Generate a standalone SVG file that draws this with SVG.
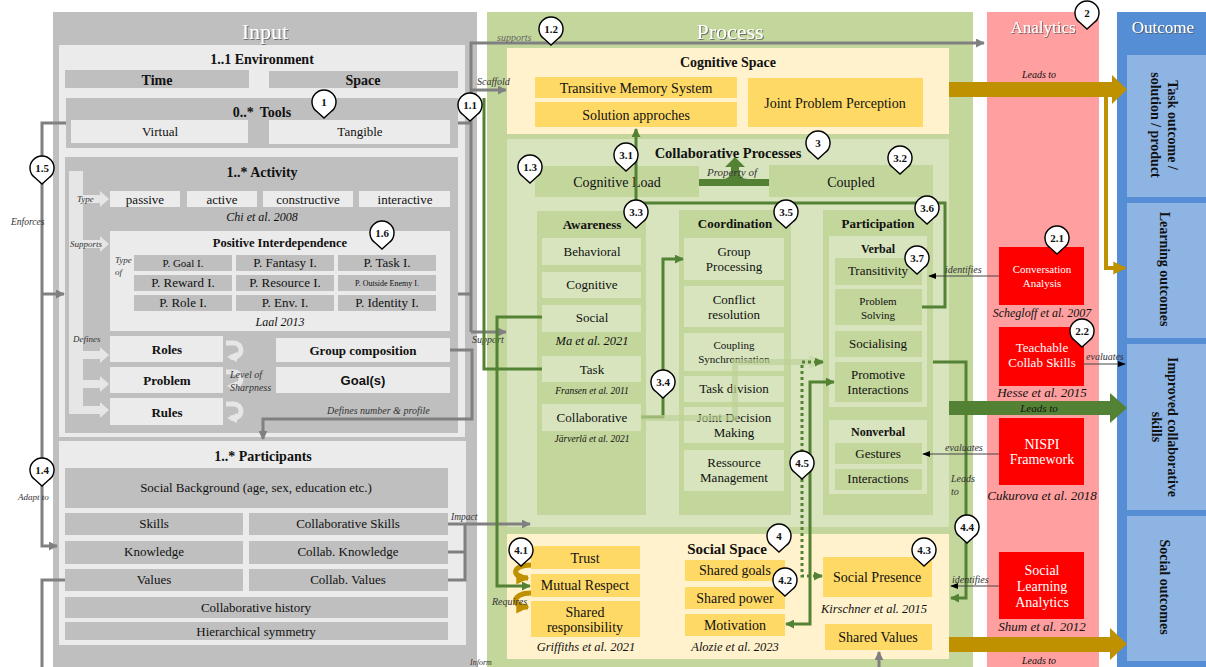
<svg xmlns="http://www.w3.org/2000/svg" width="1206" height="667" viewBox="0 0 1206 667" font-family="'Liberation Serif', 'DejaVu Serif', serif">
<defs>
<style>
text{font-family:'Liberation Serif','DejaVu Serif',serif;fill:#111;text-anchor:middle}
.b{font-weight:bold}
.i{font-style:italic}
.s13{font-size:13px}.s14{font-size:14px}.s12{font-size:12px}.s11{font-size:11px}.s10{font-size:10px}
.lbl{font-style:italic;font-size:10px;text-anchor:start;fill:#333}
.ttl{fill:#fff;filter:url(#sh)}
.wt{fill:#fff}
.gy{fill:#bfbfbf}.lg{fill:#ebebeb}
.pg{fill:#c3d69b}.lgr{fill:#d7e4bd}
.cr{fill:#fff2cc}.yl{fill:#ffd966}
.rd{fill:#ff0000}.lb{fill:#8db4e2}
.cg{fill:none;stroke:#808080;stroke-width:3}
.cgr{fill:none;stroke:#548235;stroke-width:3}
.ck{fill:none;stroke:#444;stroke-width:1}
.deco{fill:none;stroke:#e6e6e6;stroke-width:5}
.pinT{font-size:11px;font-weight:bold}
</style>
<filter id="sh" x="-10%" y="-10%" width="130%" height="140%"><feDropShadow dx="1" dy="1" stdDeviation="0.6" flood-color="#555" flood-opacity="0.8"/></filter>
<marker id="aG" viewBox="0 0 10 10" refX="9" refY="5" markerWidth="9" markerHeight="9" markerUnits="userSpaceOnUse" orient="auto-start-reverse"><path d="M0 0L10 5L0 10Z" fill="#808080"/></marker>
<marker id="aN" viewBox="0 0 10 10" refX="9" refY="5" markerWidth="9" markerHeight="9" markerUnits="userSpaceOnUse" orient="auto-start-reverse"><path d="M0 0L10 5L0 10Z" fill="#548235"/></marker>
<marker id="aL" viewBox="0 0 10 10" refX="9" refY="5" markerWidth="14" markerHeight="14" markerUnits="userSpaceOnUse" orient="auto-start-reverse"><path d="M0 0L10 5L0 10Z" fill="#c9dba9"/></marker>
<marker id="aK" viewBox="0 0 10 10" refX="9" refY="5" markerWidth="8" markerHeight="8" markerUnits="userSpaceOnUse" orient="auto-start-reverse"><path d="M0 1L10 5L0 9Z" fill="#000"/></marker>
<marker id="aO" viewBox="0 0 10 10" refX="9" refY="5" markerWidth="13" markerHeight="13" markerUnits="userSpaceOnUse" orient="auto-start-reverse"><path d="M0 0L10 5L0 10Z" fill="#bf9000"/></marker>
<marker id="aD" viewBox="0 0 10 10" refX="7" refY="5" markerWidth="10" markerHeight="10" markerUnits="userSpaceOnUse" orient="auto-start-reverse"><path d="M0 0L10 5L0 10Z" fill="#e6e6e6"/></marker>
<path id="pin" d="M-6.9 9.8A12 12 0 1 1 6.9 9.8L0 16Z" fill="#fff" stroke="#000" stroke-width="1.4"/>
</defs>
<rect width="1206" height="667" fill="#fff"/>

<!-- Panels -->
<g id="input-panel">
<rect x="53" y="12" width="424" height="655" class="gy"/>
<text x="265" y="39" class="ttl" style="font-size:22px">Input</text>
</g>
<g id="process-panel">
<rect x="487" y="12" width="486" height="655" class="pg"/>
<text x="730" y="39" class="ttl" style="font-size:22px">Process</text>
</g>
<g id="analytics-panel">
<rect x="987" y="12" width="112" height="655" fill="#ff9f9f"/>
<text x="1043" y="33" class="ttl" style="font-size:17px">Analytics</text>
</g>
<g id="outcome-panel">
<rect x="1117" y="12" width="89" height="655" fill="#558ed5"/>
<text x="1163" y="33" class="ttl" style="font-size:17px">Outcome</text>
</g>

<!-- Input: Environment -->
<g id="environment">
<rect x="59" y="45" width="406" height="392" class="lg"/>
<text x="262" y="64" class="b s14">1..1 Environment</text>
<rect x="65" y="70" width="184" height="18" class="gy"/>
<text x="157" y="85" class="b s14">Time</text>
<rect x="269" y="71" width="189" height="17" class="gy"/>
<text x="363" y="85" class="b s14">Space</text>
</g>
<g id="tools">
<rect x="66" y="98" width="392" height="50" class="gy"/>
<text x="262" y="117" class="b s14">0..*<tspan dx="6">Tools</tspan></text>
<rect x="71" y="120" width="177" height="23" class="lg"/>
<text x="160" y="136" class="s13">Virtual</text>
<rect x="269" y="120" width="181" height="24" class="lg"/>
<text x="360" y="136" class="s13">Tangible</text>
</g>
<g id="activity">
<rect x="65" y="157" width="393" height="276" class="gy"/>
<text x="262" y="177" class="b s14">1..* Activity</text>
<rect x="69" y="171" width="14" height="241" fill="#e6e6e6"/>
<path d="M83 195H100V191L109 199L100 207V203H83Z" fill="#e6e6e6"/>
<path d="M83 240H100V236L109 244L100 252V248H83Z" fill="#e6e6e6"/>
<path d="M83 351H100V347L109 355L100 363V359H83Z" fill="#e6e6e6"/>
<path d="M83 380H100V376L109 384L100 392V388H83Z" fill="#e6e6e6"/>
<path d="M69 406H100V402L109 410L100 418V414H69Z" fill="#e6e6e6"/>
<text x="77" y="202" class="lbl" style="font-size:9px">Type</text>
<text x="70" y="247" class="lbl" style="font-size:9px">Supports</text>
<text x="73" y="342" class="lbl" style="font-size:9px">Defines</text>
<rect x="110" y="191" width="70" height="16" class="lg"/>
<text x="145" y="204" class="s13">passive</text>
<rect x="187" y="191" width="70" height="16" class="lg"/>
<text x="222" y="204" class="s13">active</text>
<rect x="263" y="191" width="90" height="16" class="lg"/>
<text x="308" y="204" class="s13">constructive</text>
<rect x="359" y="191" width="91" height="16" class="lg"/>
<text x="405" y="204" class="s13">interactive</text>
<text x="262" y="221" class="i s12">Chi et al. 2008</text>
</g>
<g id="positive-interdependence">
<rect x="110" y="231" width="340" height="100" class="lg"/>
<text x="280" y="247" class="b" style="font-size:12.5px">Positive Interdependence</text>
<text x="115" y="263" class="lbl" style="font-size:9px">Type</text>
<text x="115" y="275" class="lbl" style="font-size:9px">of</text>
<rect x="134" y="255" width="98" height="16" class="gy"/>
<rect x="236" y="255" width="98" height="16" class="gy"/>
<rect x="338" y="255" width="98" height="16" class="gy"/>
<rect x="134" y="275" width="98" height="16" class="gy"/>
<rect x="236" y="275" width="98" height="16" class="gy"/>
<rect x="338" y="275" width="98" height="16" class="gy"/>
<rect x="134" y="295" width="98" height="16" class="gy"/>
<rect x="236" y="295" width="98" height="16" class="gy"/>
<rect x="338" y="295" width="98" height="16" class="gy"/>
<text x="183" y="267" class="s11">P. Goal I.</text>
<text x="285" y="267" class="s13">P. Fantasy I.</text>
<text x="387" y="267" class="s13">P. Task I.</text>
<text x="183" y="287" class="s13">P. Reward I.</text>
<text x="285" y="287" class="s13">P. Resource I.</text>
<text x="387" y="286" style="font-size:8px">P. Outside Enemy I.</text>
<text x="183" y="307" class="s13">P. Role I.</text>
<text x="285" y="307" class="s13">P. Env. I.</text>
<text x="387" y="307" class="s13">P. Identity I.</text>
<text x="280" y="326" class="i s12">Laal 2013</text>
</g>
<g id="roles-problem-rules">
<rect x="110" y="336" width="113" height="26" class="lg"/>
<text x="167" y="354" class="b s13">Roles</text>
<rect x="110" y="367" width="113" height="26" class="lg"/>
<text x="167" y="385" class="b s13">Problem</text>
<rect x="110" y="398" width="113" height="27" class="lg"/>
<text x="167" y="417" class="b s13">Rules</text>
<path d="M226 343H234A7 7 0 0 1 234 357H230" class="deco" marker-end="url(#aD)"/>
<path d="M226 372H234A7 7 0 0 1 234 386H230" class="deco" marker-end="url(#aD)"/>
<path d="M226 404H234A7 7 0 0 1 234 418H230" class="deco" marker-end="url(#aD)"/>
<text x="230" y="378" class="lbl">Level of</text>
<text x="230" y="391" class="lbl">Sharpness</text>
<rect x="276" y="338" width="174" height="24" class="lg"/>
<text x="363" y="355" class="b s13">Group composition</text>
<rect x="276" y="367" width="174" height="26" class="lg"/>
<text x="363" y="385" style="font-family:'Liberation Sans',Arial,sans-serif;font-weight:bold;font-size:13px">Goal(s)</text>
<text x="327" y="414" class="lbl">Defines number &amp; profile</text>
</g>
<g id="participants">
<rect x="59" y="441" width="407" height="204" class="lg"/>
<text x="263" y="461" class="b s14">1..* Participants</text>
<rect x="65" y="468" width="383" height="40" class="gy"/>
<text x="256" y="492" class="s13">Social Background (age, sex, education etc.)</text>
<rect x="65" y="513" width="178" height="22" class="gy"/>
<text x="154" y="528" class="s13">Skills</text>
<rect x="249" y="513" width="199" height="22" class="gy"/>
<text x="348" y="528" class="s13">Collaborative Skills</text>
<rect x="65" y="541" width="178" height="23" class="gy"/>
<text x="154" y="556" class="s13">Knowledge</text>
<rect x="249" y="541" width="199" height="23" class="gy"/>
<text x="348" y="556" class="s13">Collab. Knowledge</text>
<rect x="65" y="569" width="178" height="22" class="gy"/>
<text x="154" y="584" class="s13">Values</text>
<rect x="249" y="569" width="199" height="22" class="gy"/>
<text x="348" y="584" class="s13">Collab. Values</text>
<rect x="65" y="597" width="383" height="21" class="gy"/>
<text x="256" y="612" class="s13">Collaborative history</text>
<rect x="65" y="622" width="383" height="18" class="gy"/>
<text x="256" y="636" class="s13">Hierarchical symmetry</text>
</g>

<!-- Process: Cognitive space -->
<g id="cognitive-space">
<rect x="507" y="48" width="442" height="86" class="cr"/>
<text x="728" y="67" class="b s14">Cognitive Space</text>
<rect x="535" y="77" width="202" height="21" class="yl"/>
<text x="636" y="93" class="s14">Transitive Memory System</text>
<rect x="535" y="102" width="202" height="25" class="yl"/>
<text x="636" y="120" class="s14">Solution approches</text>
<rect x="748" y="78" width="175" height="49" class="yl"/>
<text x="835" y="108" class="s14">Joint Problem Perception</text>
</g>
<g id="collaborative-processes">
<rect x="507" y="139" width="442" height="388" class="lgr"/>
<text x="728" y="158" class="b" style="font-size:14.5px">Collaborative Processes</text>
<rect x="535" y="166" width="164" height="31" class="pg"/>
<text x="617" y="187" class="s14">Cognitive Load</text>
<rect x="769" y="165" width="164" height="32" class="pg"/>
<text x="851" y="187" class="s14">Coupled</text>
</g>
<g id="awareness">
<rect x="537" y="211" width="109" height="304" class="pg"/>
<text x="592" y="229" class="b s13">Awareness</text>
<rect x="542" y="238" width="99" height="27" class="lgr"/>
<text x="592" y="256" class="s13">Behavioral</text>
<rect x="542" y="272" width="99" height="26" class="lgr"/>
<text x="592" y="289" class="s13">Cognitive</text>
<rect x="542" y="305" width="99" height="27" class="lgr"/>
<text x="592" y="322" class="s13">Social</text>
<text x="592" y="345" class="i" style="font-size:12.5px">Ma et al. 2021</text>
<rect x="542" y="356" width="99" height="26" class="lgr"/>
<text x="592" y="374" class="s13">Task</text>
<text x="592" y="394" class="i" style="font-size:9.5px">Fransen et al. 2011</text>
<rect x="542" y="404" width="99" height="27" class="lgr"/>
<text x="592" y="422" class="s13">Collaborative</text>
<text x="592" y="442" class="i" style="font-size:9.5px">Järverlä et al. 2021</text>
</g>
<g id="coordination">
<rect x="679" y="210" width="112" height="305" class="pg"/>
<text x="735" y="228" class="b s13">Coordination</text>
<rect x="684" y="238" width="100" height="42" class="lgr"/>
<text x="734" y="256" class="s13">Group</text>
<text x="734" y="271" class="s13">Processing</text>
<rect x="684" y="286" width="100" height="41" class="lgr"/>
<text x="734" y="304" class="s13">Conflict</text>
<text x="734" y="319" class="s13">resolution</text>
<rect x="684" y="333" width="100" height="38" class="lgr"/>
<text x="734" y="349" class="s11">Coupling</text>
<text x="734" y="363" class="s11">Synchronisation</text>
<rect x="684" y="376" width="100" height="26" class="lgr"/>
<text x="734" y="393" class="s13">Task division</text>
<rect x="684" y="407" width="100" height="36" class="lgr"/>
<text x="734" y="422" class="s13">Joint Decision</text>
<text x="734" y="437" class="s13">Making</text>
<rect x="684" y="450" width="100" height="41" class="lgr"/>
<text x="734" y="467" class="s13">Ressource</text>
<text x="734" y="482" class="s13">Management</text>
</g>
<g id="participation">
<rect x="823" y="210" width="110" height="305" class="pg"/>
<text x="878" y="228" class="b s13">Participation</text>
<rect x="829" y="236" width="98" height="171" class="lgr"/>
<text x="878" y="253" class="b s12">Verbal</text>
<rect x="835" y="258" width="87" height="27" class="pg"/>
<text x="878" y="275" class="s13">Transitivity</text>
<rect x="835" y="289" width="87" height="36" class="pg"/>
<text x="878" y="305" class="s11">Problem</text>
<text x="878" y="319" class="s11">Solving</text>
<rect x="835" y="331" width="87" height="26" class="pg"/>
<text x="878" y="348" class="s13">Socialising</text>
<rect x="835" y="362" width="87" height="40" class="pg"/>
<text x="878" y="379" class="s13">Promotive</text>
<text x="878" y="394" class="s13">Interactions</text>
<rect x="829" y="420" width="98" height="74" class="lgr"/>
<text x="878" y="436" class="b s12">Nonverbal</text>
<rect x="835" y="443" width="87" height="21" class="pg"/>
<text x="878" y="458" class="s13">Gestures</text>
<rect x="835" y="469" width="87" height="21" class="pg"/>
<text x="878" y="483" class="s13">Interactions</text>
</g>
<g id="social-space">
<rect x="507" y="534" width="442" height="125" class="cr"/>
<text x="727" y="554" class="b" style="font-size:15px">Social Space</text>
<rect x="531" y="546" width="109" height="23" class="yl"/>
<text x="585" y="563" class="s14">Trust</text>
<rect x="531" y="574" width="109" height="23" class="yl"/>
<text x="585" y="590" class="s14">Mutual Respect</text>
<rect x="531" y="601" width="109" height="36" class="yl"/>
<text x="585" y="617" class="s14">Shared</text>
<text x="585" y="632" class="s14">responsibility</text>
<text x="586" y="651" class="i" style="font-size:12.5px">Griffiths et al. 2021</text>
<rect x="685" y="560" width="100" height="21" class="yl"/>
<text x="735" y="575" class="s14">Shared goals</text>
<rect x="685" y="587" width="100" height="22" class="yl"/>
<text x="735" y="603" class="s14">Shared power</text>
<rect x="685" y="614" width="100" height="22" class="yl"/>
<text x="735" y="630" class="s14">Motivation</text>
<text x="735" y="651" class="i" style="font-size:12.5px">Alozie et al. 2023</text>
<rect x="823" y="557" width="109" height="40" class="yl"/>
<text x="877" y="582" class="s14">Social Presence</text>
<text x="874" y="613" class="i" style="font-size:12.5px">Kirschner et al. 2015</text>
<rect x="825" y="624" width="107" height="26" class="yl"/>
<text x="878" y="642" class="s14">Shared Values</text>
</g>

<!-- Analytics -->
<g id="conversation-analysis">
<rect x="999" y="247" width="85" height="58" class="rd"/>
<text x="1042" y="273" class="wt s11">Conversation</text>
<text x="1042" y="287" class="wt s11">Analysis</text>
<text x="1042" y="317" class="i s12">Schegloff et al. 2007</text>
</g>
<g id="teachable-collab-skills">
<rect x="999" y="327" width="85" height="59" class="rd"/>
<text x="1042" y="352" class="wt s13">Teachable</text>
<text x="1042" y="367" class="wt s13">Collab Skills</text>
<text x="1042" y="397" class="i s13">Hesse et al. 2015</text>
</g>
<g id="nispi-framework">
<rect x="999" y="418" width="85" height="67" class="rd"/>
<text x="1042" y="449" class="wt s14">NISPI</text>
<text x="1042" y="464" class="wt s14">Framework</text>
<text x="1042" y="500" class="i s13">Cukurova et al. 2018</text>
</g>
<g id="social-learning-analytics">
<rect x="999" y="552" width="85" height="67" class="rd"/>
<text x="1042" y="575" class="wt s14">Social</text>
<text x="1042" y="591" class="wt s14">Learning</text>
<text x="1042" y="607" class="wt s14">Analytics</text>
<text x="1042" y="631" class="i s13">Shum et al. 2012</text>
</g>

<!-- Outcome -->
<g id="task-outcome">
<rect x="1127" y="55" width="79" height="142" class="lb"/>
<text transform="translate(1168 125) rotate(90)" class="b s14">Task outcome /</text>
<text transform="translate(1151 125) rotate(90)" class="b s14">solution / product</text>
</g>
<g id="learning-outcomes">
<rect x="1127" y="203" width="79" height="135" class="lb"/>
<text transform="translate(1160 269) rotate(90)" class="b s14">Learning outcomes</text>
</g>
<g id="improved-collaborative-skills">
<rect x="1127" y="344" width="79" height="166" class="lb"/>
<text transform="translate(1168 427) rotate(90)" class="b s14">Improved collaborative</text>
<text transform="translate(1152 427) rotate(90)" class="b s14">skills</text>
</g>
<g id="social-outcomes">
<rect x="1127" y="516" width="79" height="145" class="lb"/>
<text transform="translate(1160 587) rotate(90)" class="b s14">Social outcomes</text>
</g>

<!-- Connectors -->
<g id="connectors">
<path d="M949 82H1112V75L1127 89.5L1112 104V97H949Z" fill="#bf9000"/>
<path d="M1106 97V268H1125" fill="none" stroke="#bf9000" stroke-width="4" marker-end="url(#aO)"/>
<path d="M949 401H1110V393L1127 408L1110 423V415H949Z" fill="#548235"/>
<path d="M949 637H1110V628L1127 644L1110 660V652H949Z" fill="#bf9000"/>
<text x="1039" y="78" class="i s10">Leads to</text>
<text x="1039" y="412" class="i s11">Leads to</text>
<text x="1039" y="664" class="i s10">Leads to</text>

<path d="M66 123H42V546H57" class="cg" marker-end="url(#aG)"/>
<path d="M42 294H64" class="cg" marker-end="url(#aG)"/>
<path d="M65 580H42V667" class="cg"/>
<path d="M458 123H471M458 294H471" class="cg"/>
<path d="M471 332V43H984" class="cg" marker-end="url(#aG)"/>
<path d="M471 90H506" class="cg" marker-end="url(#aG)"/>
<path d="M471 332H506" class="cg" marker-end="url(#aG)"/>
<path d="M450 350H472V419H263V439" class="cg" marker-end="url(#aG)"/>
<path d="M448 524H530" class="cg" marker-end="url(#aG)"/>
<path d="M448 552H465M448 580H465V524" class="cg"/>
<path d="M879 667V652" class="cg" marker-end="url(#aG)"/>
<text x="11" y="225" class="lbl" style="font-size:9.5px">Enforces</text>
<text x="18" y="500" class="lbl" style="font-size:9px">Adapt to</text>
<text x="451" y="520" class="lbl" style="font-size:9.5px">Impact</text>
<text x="497" y="41" class="lbl" style="fill:#666">supports</text>
<text x="477" y="85" class="lbl">Scaffold</text>
<text x="472" y="343" class="lbl">Support</text>
<text x="470" y="665" class="lbl" style="font-size:8px">Inform</text>

<path d="M542 369H484V98" class="cgr"/>
<path d="M542 317H497V586H530" class="cgr" marker-end="url(#aN)"/>
<path d="M922 307H945V203H636V129" class="cgr" marker-end="url(#aN)"/>
<path d="M641 417H663V259H683" class="cgr" marker-end="url(#aN)"/>
<path d="M641 418H735V362H822" fill="none" stroke="#bdd197" stroke-width="6" stroke-opacity="0.7" marker-end="url(#aL)"/>
<path d="M786 624H810V382H834" class="cgr" marker-start="url(#aN)" marker-end="url(#aN)"/>
<path d="M823 362H802V576H822" class="cgr" stroke-dasharray="3 3" marker-start="url(#aN)" marker-end="url(#aN)"/>
<path d="M933 362H966V598H951" class="cgr" marker-end="url(#aN)"/>
<path d="M699 179H722Q731 179 731 170V167H725L735 157L745 167H739V170Q739 179 748 179H769V186H699Z" fill="#548235"/>
<text x="707" y="176" class="lbl" style="font-size:11px">Property of</text>
<text x="951" y="482" class="lbl">Leads</text>
<text x="951" y="495" class="lbl">to</text>

<path d="M531 565C511 565 511 578 528 578" fill="none" stroke="#bf9000" stroke-width="5" marker-end="url(#aO)"/>
<path d="M531 593C511 593 511 607 528 607" fill="none" stroke="#bf9000" stroke-width="5" marker-end="url(#aO)"/>
<text x="492" y="605" class="lbl">Requires</text>

<path d="M999 276H929" class="ck" marker-end="url(#aK)"/>
<path d="M1084 364H1125" class="ck" marker-end="url(#aK)"/>
<path d="M999 454H923" class="ck" marker-end="url(#aK)"/>
<path d="M999 586H951" class="ck" marker-end="url(#aK)"/>
<text x="945" y="273" class="lbl">identifies</text>
<text x="1086" y="360" class="lbl">evaluates</text>
<text x="945" y="451" class="lbl">evaluates</text>
<text x="952" y="583" class="lbl">identifies</text>
</g>

<g id="markers">
<use href="#pin" x="324" y="102"/><text x="324" y="106" class="pinT">1</text>
<use href="#pin" x="470" y="105"/><text x="470" y="109" class="pinT">1.1</text>
<use href="#pin" x="551" y="29"/><text x="551" y="33" class="pinT">1.2</text>
<use href="#pin" x="530" y="167"/><text x="530" y="171" class="pinT">1.3</text>
<use href="#pin" x="42" y="470"/><text x="42" y="474" class="pinT">1.4</text>
<use href="#pin" x="42" y="168"/><text x="42" y="172" class="pinT">1.5</text>
<use href="#pin" x="382" y="233"/><text x="382" y="237" class="pinT">1.6</text>
<use href="#pin" x="1087" y="13"/><text x="1087" y="17" class="pinT">2</text>
<use href="#pin" x="1057" y="238"/><text x="1057" y="242" class="pinT">2.1</text>
<use href="#pin" x="1082" y="331"/><text x="1082" y="335" class="pinT">2.2</text>
<use href="#pin" x="818" y="143"/><text x="818" y="147" class="pinT">3</text>
<use href="#pin" x="626" y="155"/><text x="626" y="159" class="pinT">3.1</text>
<use href="#pin" x="900" y="158"/><text x="900" y="162" class="pinT">3.2</text>
<use href="#pin" x="636" y="212"/><text x="636" y="216" class="pinT">3.3</text>
<use href="#pin" x="663" y="382"/><text x="663" y="386" class="pinT">3.4</text>
<use href="#pin" x="786" y="212"/><text x="786" y="216" class="pinT">3.5</text>
<use href="#pin" x="927" y="208"/><text x="927" y="212" class="pinT">3.6</text>
<use href="#pin" x="917" y="258"/><text x="917" y="262" class="pinT">3.7</text>
<use href="#pin" x="779" y="536"/><text x="779" y="540" class="pinT">4</text>
<use href="#pin" x="521" y="550"/><text x="521" y="554" class="pinT">4.1</text>
<use href="#pin" x="785" y="580"/><text x="785" y="584" class="pinT">4.2</text>
<use href="#pin" x="924" y="550"/><text x="924" y="554" class="pinT">4.3</text>
<use href="#pin" x="967" y="527"/><text x="967" y="531" class="pinT">4.4</text>
<use href="#pin" x="802" y="463"/><text x="802" y="467" class="pinT">4.5</text>
</g>
</svg>
